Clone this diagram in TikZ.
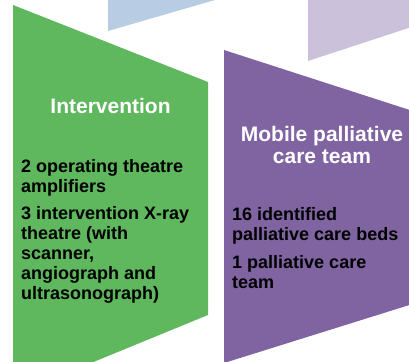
\documentclass[tikz,border=0pt]{standalone}
\usepackage{fontspec}
\setmainfont{Liberation Sans}
\definecolor{greenfill}{HTML}{5FB75E}
\definecolor{purplefill}{HTML}{8064A2}
\definecolor{lavfill}{HTML}{CBC1DB}
\definecolor{bluefill}{HTML}{B8CCE4}
\tikzset{
  head/.style={font=\fontsize{21}{23}\selectfont\bfseries, text=white, inner sep=0pt, anchor=base},
  body/.style={font=\fontsize{18}{20}\selectfont\bfseries, text=black, inner sep=0pt, anchor=base west},
}
\begin{document}
\begin{tikzpicture}[x=1pt,y=-1pt]
\useasboundingbox (0,0) rectangle (409,361);
\clip (0,0) rectangle (409,361);
% shapes
\fill[bluefill] (108,-40) -- (108,31) -- (215,0) -- (303,-26) -- (303,-40) -- cycle;
\fill[lavfill] (308,-40) -- (308,61) -- (503,-3) -- (503,-40) -- cycle;
\fill[greenfill] (13,5) -- (208,82) -- (208,315) -- (13,395) -- cycle;
\fill[purplefill] (224,50) -- (419,113) -- (419,302) -- (224,363) -- cycle;
% headings
\node[head] (h1) at (110.5,113) {Intervention};
\node[head] (h2a) at (322,141) {Mobile palliative};
\node[head] (h2b) at (322,163) {care team};
% green body
\node[body] (g1) at (21,172) {2 operating theatre};
\node[body] (g2) at (21,192) {amplifiers};
\node[body] (g3) at (21,219) {3 intervention X-ray};
\node[body] (g4) at (21,239) {theatre (with};
\node[body] (g5) at (21,259) {scanner,};
\node[body] (g6) at (21,279) {angiograph and};
\node[body] (g7) at (21,299) {ultrasonograph)};
% purple body
\node[body] (p1) at (232,220) {16 identified};
\node[body] (p2) at (232,240) {palliative care beds};
\node[body] (p3) at (232,268) {1 palliative care};
\node[body] (p4) at (232,288) {team};
\end{tikzpicture}
\end{document}
